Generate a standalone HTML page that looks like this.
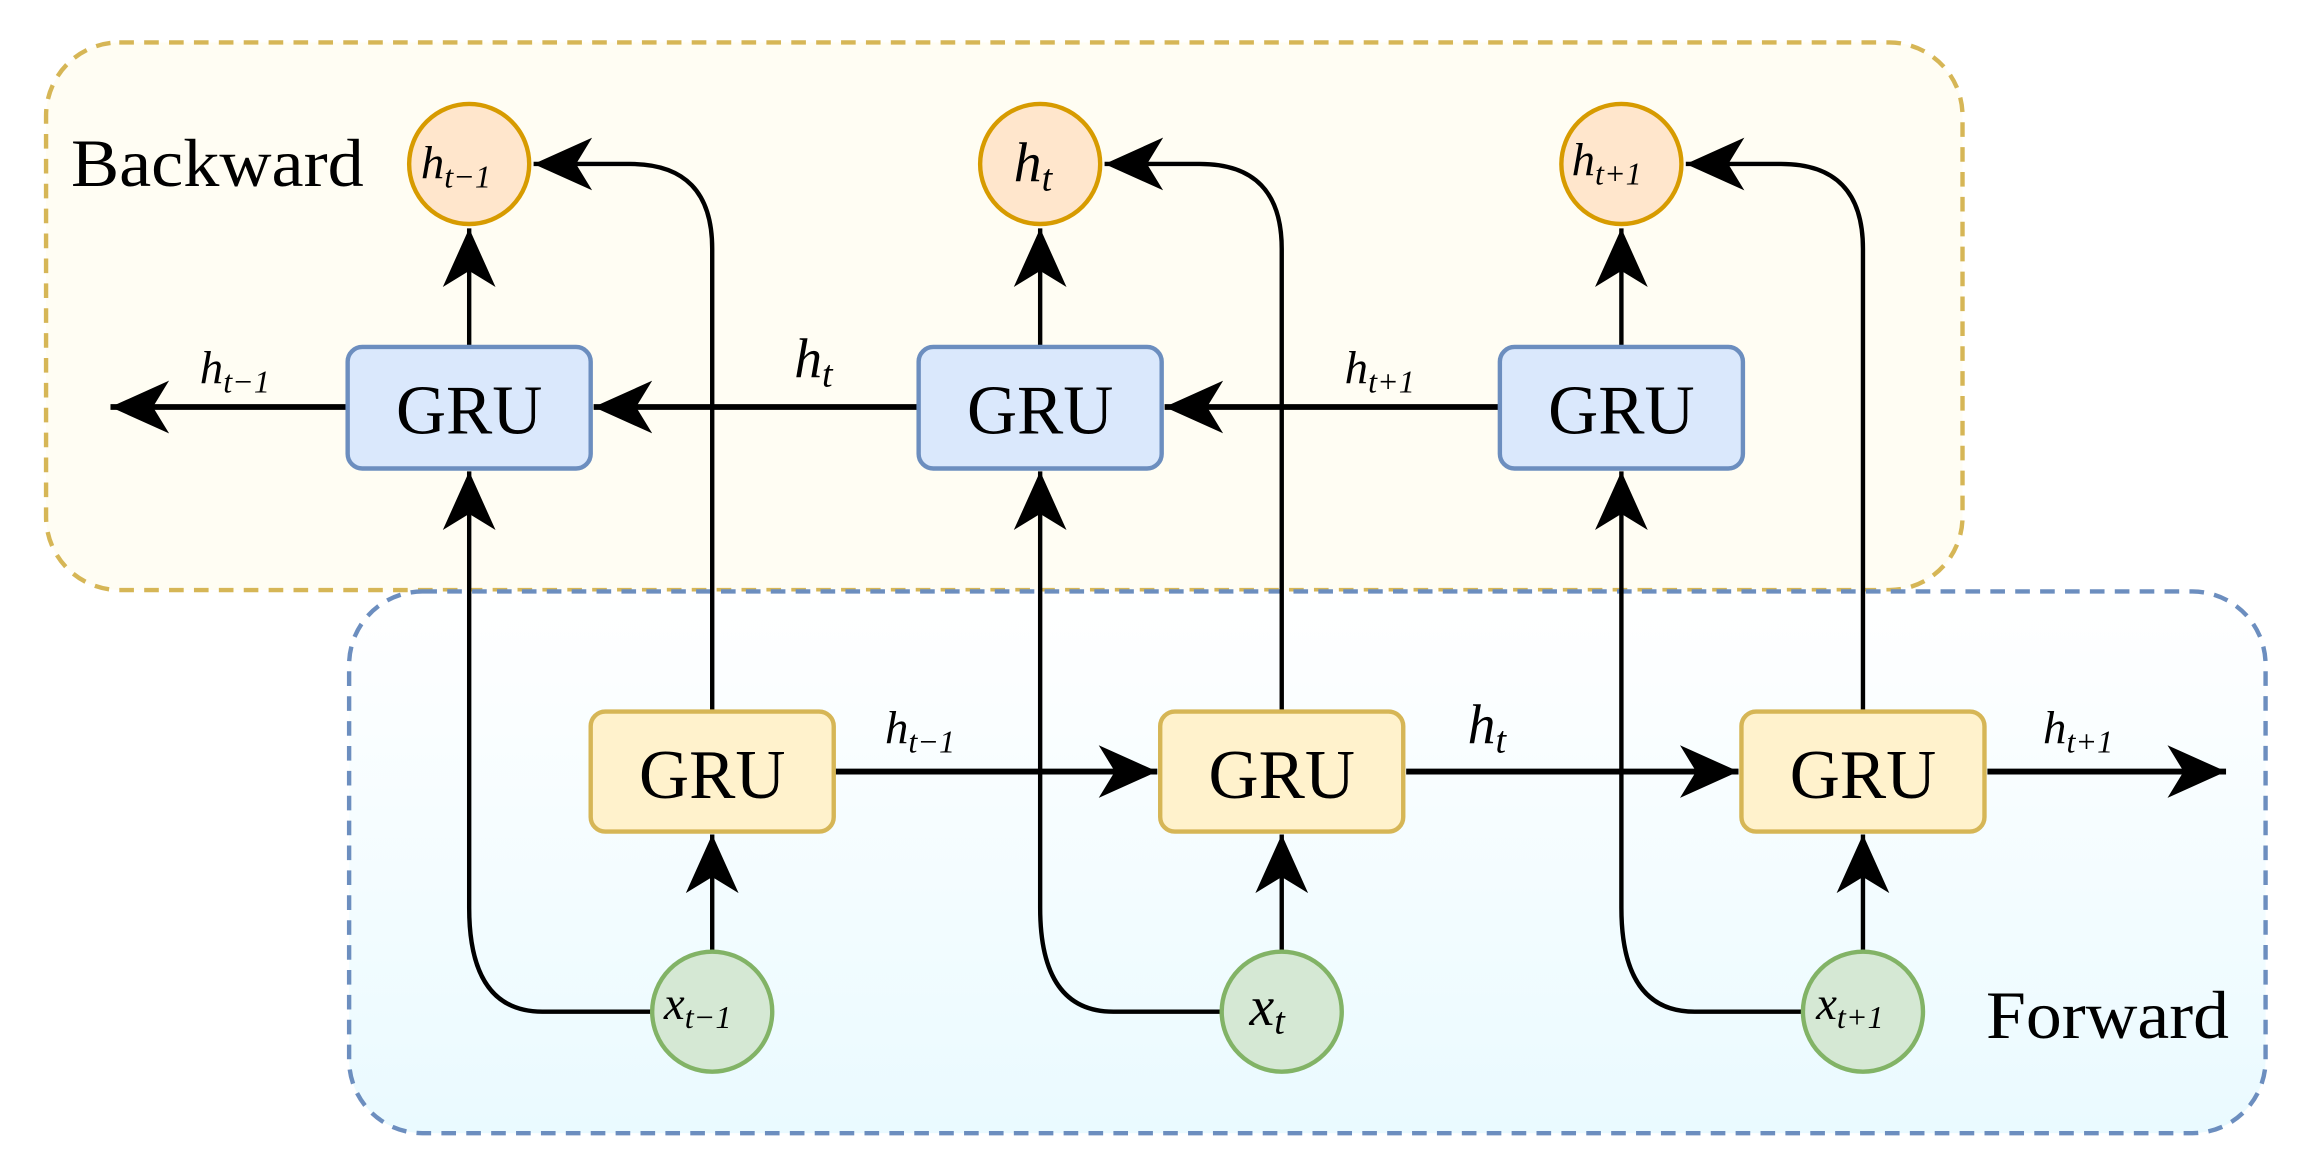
<!DOCTYPE html>
<html><head><meta charset="utf-8"><style>
html,body{margin:0;padding:0;background:#fff;}
svg{display:block;}
text{font-family:"Liberation Serif",serif;}
.m{font-style:italic;}
</style></head><body>
<svg width="2297" height="1161" viewBox="0 0 1568 793" xmlns="http://www.w3.org/2000/svg">
<defs>
<marker id="a" markerUnits="userSpaceOnUse" markerWidth="50" markerHeight="50" viewBox="0 0 50 50" refX="40" refY="25" orient="auto">
<path d="M40,25 L0,7 L11,25 L0,43 Z" fill="#000"/>
</marker>
<linearGradient id="g" x1="0" y1="0" x2="0" y2="1">
<stop offset="0" stop-color="#ffffff"/><stop offset="1" stop-color="#eafaff"/>
</linearGradient>
</defs>
<rect x="31" y="29" width="1309" height="374" rx="50" fill="#fffdf3" stroke="#d6b656" stroke-width="3" stroke-dasharray="10,7"/>
<rect x="238" y="404" width="1309" height="370" rx="50" fill="url(#g)" stroke="#6c8ebf" stroke-width="3" stroke-dasharray="10,7"/>

<g stroke="#000" stroke-width="3" fill="none" marker-end="url(#a)">
<line x1="1023" y1="278" x2="795" y2="278" stroke-width="4"/>
<line x1="626" y1="278" x2="405" y2="278" stroke-width="4"/>
<line x1="237" y1="278" x2="75" y2="278" stroke-width="4"/>
<line x1="320" y1="237" x2="320" y2="156"/>
<line x1="710" y1="237" x2="710" y2="156"/>
<line x1="1107" y1="237" x2="1107" y2="156"/>
<path d="M444,691 L370,691 Q320,691 320,620 L320,322"/>
<path d="M833,691 L760,691 Q710,691 710,620 L710,322"/>
<path d="M1230,691 L1157,691 Q1107,691 1107,620 L1107,322"/>
<line x1="570" y1="527" x2="790" y2="527" stroke-width="4"/>
<line x1="960" y1="527" x2="1187" y2="527" stroke-width="4"/>
<line x1="1357" y1="527" x2="1520" y2="527" stroke-width="4"/>
<line x1="486" y1="649" x2="486" y2="570"/>
<line x1="875" y1="649" x2="875" y2="570"/>
<line x1="1272" y1="649" x2="1272" y2="570"/>
<path d="M486,485 L486,170 Q486,112 430,112 L364,112"/>
<path d="M875,485 L875,170 Q875,112 819,112 L754,112"/>
<path d="M1272,485 L1272,170 Q1272,112 1216,112 L1151,112"/>
</g>

<g stroke-width="3">
<rect x="237" y="237" width="166" height="83" rx="10" fill="#dae8fc" stroke="#6c8ebf"/>
<rect x="627" y="237" width="166" height="83" rx="10" fill="#dae8fc" stroke="#6c8ebf"/>
<rect x="1024" y="237" width="166" height="83" rx="10" fill="#dae8fc" stroke="#6c8ebf"/>
<rect x="403" y="486" width="166" height="82" rx="10" fill="#fff2cc" stroke="#d6b656"/>
<rect x="792" y="486" width="166" height="82" rx="10" fill="#fff2cc" stroke="#d6b656"/>
<rect x="1189" y="486" width="166" height="82" rx="10" fill="#fff2cc" stroke="#d6b656"/>
<circle cx="320" cy="112" r="41" fill="#ffe6cc" stroke="#d79b00"/>
<circle cx="710" cy="112" r="41" fill="#ffe6cc" stroke="#d79b00"/>
<circle cx="1107" cy="112" r="41" fill="#ffe6cc" stroke="#d79b00"/>
<circle cx="486" cy="691" r="41" fill="#d5e8d4" stroke="#82b366"/>
<circle cx="875" cy="691" r="41" fill="#d5e8d4" stroke="#82b366"/>
<circle cx="1272" cy="691" r="41" fill="#d5e8d4" stroke="#82b366"/>
</g>

<g font-size="48">
<text x="270" y="296" textLength="100" lengthAdjust="spacingAndGlyphs">GRU</text>
<text x="660" y="296" textLength="100" lengthAdjust="spacingAndGlyphs">GRU</text>
<text x="1057" y="296" textLength="100" lengthAdjust="spacingAndGlyphs">GRU</text>
<text x="436" y="545" textLength="100" lengthAdjust="spacingAndGlyphs">GRU</text>
<text x="825" y="545" textLength="100" lengthAdjust="spacingAndGlyphs">GRU</text>
<text x="1222" y="545" textLength="100" lengthAdjust="spacingAndGlyphs">GRU</text>
</g>
<text x="48" y="127" font-size="46" textLength="200" lengthAdjust="spacingAndGlyphs">Backward</text>
<text x="1356" y="709" font-size="46" textLength="166" lengthAdjust="spacingAndGlyphs">Forward</text>

<g font-size="32">
<text x="287" y="122" class="m">h<tspan font-size="22" dy="6">t−1</tspan></text>
<text x="692" y="124" class="m" font-size="38">h<tspan font-size="26" dy="6">t</tspan></text>
<text x="1073" y="120" class="m">h<tspan font-size="22" dy="6">t+1</tspan></text>
<text x="136" y="262" class="m">h<tspan font-size="22" dy="6">t−1</tspan></text>
<text x="542" y="258" class="m" font-size="38">h<tspan font-size="26" dy="6">t</tspan></text>
<text x="918" y="262" class="m">h<tspan font-size="22" dy="6">t+1</tspan></text>
<text x="604" y="508" class="m">h<tspan font-size="22" dy="6">t−1</tspan></text>
<text x="1002" y="508" class="m" font-size="38">h<tspan font-size="26" dy="6">t</tspan></text>
<text x="1395" y="508" class="m">h<tspan font-size="22" dy="6">t+1</tspan></text>
<text x="453" y="696" class="m">x<tspan font-size="22" dy="6">t−1</tspan></text>
<text x="853" y="700" class="m" font-size="38">x<tspan font-size="26" dy="6">t</tspan></text>
<text x="1240" y="696" class="m">x<tspan font-size="22" dy="6">t+1</tspan></text>
</g>
</svg>
</body></html>
